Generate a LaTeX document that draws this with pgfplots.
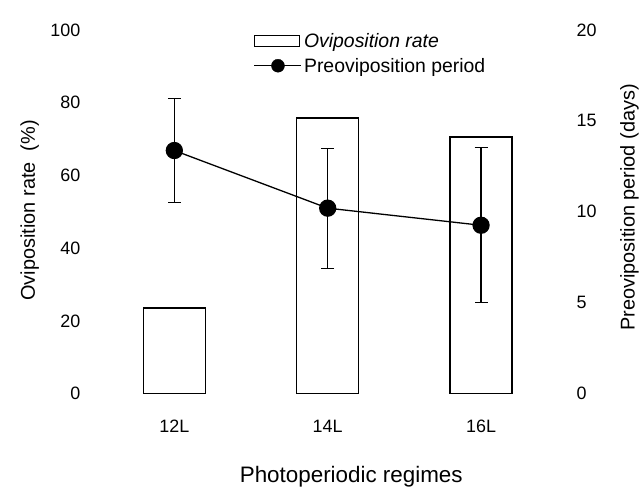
\documentclass[border=0pt]{standalone}
\usepackage{pgfplots}
\pgfplotsset{compat=1.18}
\usepackage{fontspec}
\setmainfont{Liberation Sans}
\begin{document}
\begin{tikzpicture}
\pgfplotsset{
  common/.style={
    scale only axis, width=491.2bp, height=364bp,
    at={(0,0)}, anchor=south west,
    xmin=-0.6, xmax=2.6,
    axis line style={draw=none},
    major tick length=0pt,
    tick label style={font=\fontsize{18}{20}\selectfont},
    label style={font=\fontsize{20}{24}\selectfont},
    /pgf/number format/assume math mode=true,
  }
}
\begin{axis}[common,
  axis x line*=bottom, axis y line*=left,
  ymin=0, ymax=100,
  xtick={0,1,2}, xticklabels={12L,14L,16L},
  xticklabel style={anchor=center, yshift=-33bp},
  ytick={0,20,...,100},
  yticklabel style={xshift=1.5bp},
  ybar, bar width=62bp,
  ylabel={Oviposition rate\ \ (\%)},
  ylabel style={at={(axis description cs:-0.107,0.504)}, anchor=center},
  xlabel={Photoperiodic regimes},
  xlabel style={at={(axis description cs:0.548,-0.229)}, anchor=center, font=\fontsize{22.5}{26}\selectfont},
]
\addplot[draw=black, fill=white, line width=1.4bp] coordinates {(0,23.6) (1,75.8) (2,70.6)};
\end{axis}
\begin{axis}[common,
  axis x line=none, axis y line*=right,
  ymin=0, ymax=20,
  ytick={0,5,...,20},
  yticklabel style={xshift=0bp},
  ylabel={Preoviposition period (days)},
  ylabel style={at={(axis description cs:1.1148,0.512)}, anchor=center},
  legend style={at={(0.343,1.002)}, anchor=north west, draw=none, fill=none,
    font=\fontsize{19.5}{22}\selectfont, row sep=5bp,
    /tikz/every even column/.append style={column sep=3bp}},
  legend cell align=left,
]
\addlegendimage{legend image code/.code={\draw[line width=1.3bp, fill=white] (0bp,-5bp) rectangle (45bp,6bp);}}
\addlegendentry{\textit{Oviposition rate}}
\addlegendimage{legend image code/.code={\draw[line width=1.3bp] (0bp,0bp) -- (47bp,0bp); \fill[black] (23.5bp,0bp) circle (6.5bp);}}
\addlegendentry{Preoviposition period}
\addplot[black, line width=1.3bp, mark=*, mark size=8bp, forget plot,
  error bars/.cd, y dir=both, y explicit,
  error bar style={line width=1.2bp, black},
  error mark options={rotate=90, mark size=6.5bp, line width=1.2bp, black}]
  coordinates {(0,13.37) +- (0,2.88) (1,10.2) +- (0,3.3) (2,9.26) +- (0,4.27)};
\end{axis}
\path[use as bounding box] (-82.4bp,-95bp) rectangle (559.6bp,394bp);
\end{tikzpicture}
\end{document}
